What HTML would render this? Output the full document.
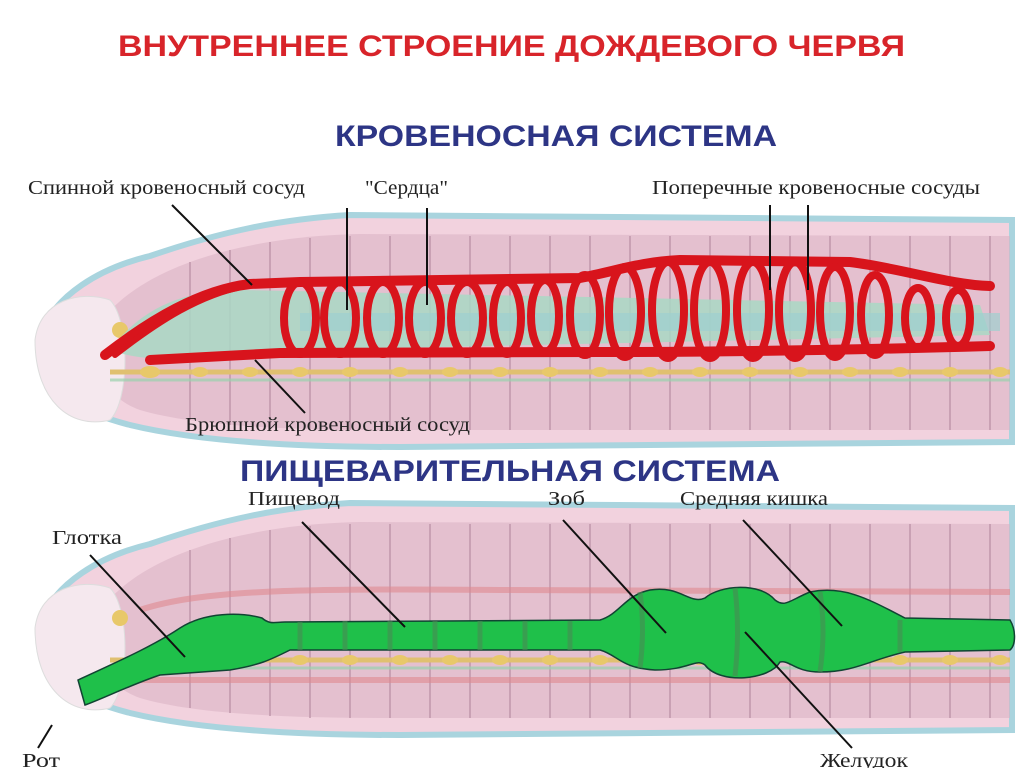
<!DOCTYPE html>
<html><head><meta charset="utf-8"><style>
body{margin:0;background:#fff;width:1024px;height:768px;overflow:hidden}
svg{display:block}
.t{font-family:"Liberation Serif",serif;font-size:20px;fill:#222}
.h{font-family:"Liberation Sans",sans-serif;font-weight:bold;font-size:30px}
</style></head><body>
<svg width="1024" height="768" viewBox="0 0 1024 768">
<defs>
<g id="body">
<path d="M40 335 C55 295 100 268 150 256 C220 232 280 219 350 215 L1012 220 L1012 442 L400 447 C300 447 200 442 130 425 C80 412 38 392 40 335 Z" fill="#f2d2de" stroke="#a9d4de" stroke-width="6"/>
<path d="M95 330 C120 290 170 265 230 250 C280 238 320 235 360 234 L1010 236 L1010 430 L380 430 C280 430 190 425 140 410 C110 400 90 370 95 330 Z" fill="#d9b0c2" opacity="0.55"/>
<g stroke="#c39aae" stroke-width="2" opacity="0.8">
<line x1="190" y1="262" x2="190" y2="420"/><line x1="230" y1="250" x2="230" y2="425"/><line x1="270" y1="242" x2="270" y2="428"/><line x1="310" y1="238" x2="310" y2="430"/><line x1="350" y1="236" x2="350" y2="430"/><line x1="390" y1="236" x2="390" y2="430"/><line x1="430" y1="236" x2="430" y2="430"/><line x1="470" y1="236" x2="470" y2="430"/><line x1="510" y1="236" x2="510" y2="430"/><line x1="550" y1="236" x2="550" y2="430"/><line x1="590" y1="236" x2="590" y2="430"/><line x1="630" y1="236" x2="630" y2="430"/><line x1="670" y1="236" x2="670" y2="430"/><line x1="710" y1="236" x2="710" y2="430"/><line x1="750" y1="236" x2="750" y2="430"/><line x1="790" y1="236" x2="790" y2="430"/><line x1="830" y1="236" x2="830" y2="430"/><line x1="870" y1="236" x2="870" y2="430"/><line x1="910" y1="236" x2="910" y2="430"/><line x1="950" y1="236" x2="950" y2="430"/><line x1="990" y1="236" x2="990" y2="430"/>
</g>
<path d="M35 340 C40 300 80 290 110 300 C130 320 130 400 110 420 C70 430 35 400 35 340 Z" fill="#f5e8ee" stroke="#ddd" stroke-width="1"/>
<path d="M110 372 L1010 372" stroke="#e0c070" stroke-width="5"/>
<g fill="#e8c86a"><circle cx="120" cy="330" r="8"/><ellipse cx="150" cy="372" rx="10" ry="6"/><ellipse cx="200" cy="372" rx="8" ry="5"/><ellipse cx="250" cy="372" rx="8" ry="5"/><ellipse cx="300" cy="372" rx="8" ry="5"/><ellipse cx="350" cy="372" rx="8" ry="5"/><ellipse cx="400" cy="372" rx="8" ry="5"/><ellipse cx="450" cy="372" rx="8" ry="5"/><ellipse cx="500" cy="372" rx="8" ry="5"/><ellipse cx="550" cy="372" rx="8" ry="5"/><ellipse cx="600" cy="372" rx="8" ry="5"/><ellipse cx="650" cy="372" rx="8" ry="5"/><ellipse cx="700" cy="372" rx="8" ry="5"/><ellipse cx="750" cy="372" rx="8" ry="5"/><ellipse cx="800" cy="372" rx="8" ry="5"/><ellipse cx="850" cy="372" rx="8" ry="5"/><ellipse cx="900" cy="372" rx="8" ry="5"/><ellipse cx="950" cy="372" rx="8" ry="5"/><ellipse cx="1000" cy="372" rx="8" ry="5"/></g>
<path d="M110 380 L1010 380" stroke="#9ad2ad" stroke-width="3" opacity="0.7"/>
</g>
</defs>

<text x="118" y="56" textLength="787" lengthAdjust="spacingAndGlyphs" class="h" fill="#d8242a">ВНУТРЕННЕЕ СТРОЕНИЕ ДОЖДЕВОГО ЧЕРВЯ</text>
<text x="335" y="146" textLength="442" lengthAdjust="spacingAndGlyphs" class="h" fill="#2d3585">КРОВЕНОСНАЯ СИСТЕМА</text>
<text x="240" y="481" textLength="540" lengthAdjust="spacingAndGlyphs" class="h" fill="#2d3585">ПИЩЕВАРИТЕЛЬНАЯ СИСТЕМА</text>

<!-- Worm 1 -->
<use href="#body"/>
<path d="M110 350 C140 310 180 290 240 290 L980 305 L990 335 L300 350 C220 360 150 365 110 350 Z" fill="#a9d8c4" opacity="0.85"/>
<path d="M300 322 L1000 322" stroke="#9fd0d0" stroke-width="18" opacity="0.7"/>
<g fill="none" stroke="#d8141c" stroke-linecap="round">
<path d="M105 355 C150 320 200 290 250 284 L300 282 L580 278 C620 270 640 262 680 260 L850 262 C900 268 950 285 990 286" stroke-width="10"/>
<path d="M115 355 C160 320 200 295 245 286" stroke-width="6"/>
<path d="M150 360 L280 353 L600 352 C700 352 850 350 990 346" stroke-width="10"/>
<g stroke-width="8">
<ellipse cx="300" cy="318" rx="16" ry="36"/><ellipse cx="340" cy="318" rx="16" ry="36"/><ellipse cx="383" cy="318" rx="16" ry="36"/><ellipse cx="425" cy="318" rx="16" ry="36"/><ellipse cx="467" cy="318" rx="16" ry="36"/><ellipse cx="507" cy="318" rx="14" ry="36"/><ellipse cx="545" cy="316" rx="14" ry="36"/><ellipse cx="585" cy="315" rx="15" ry="40"/><ellipse cx="625" cy="312" rx="16" ry="45"/><ellipse cx="668" cy="310" rx="16" ry="48"/><ellipse cx="710" cy="310" rx="16" ry="48"/><ellipse cx="753" cy="310" rx="16" ry="48"/><ellipse cx="795" cy="310" rx="16" ry="48"/><ellipse cx="835" cy="312" rx="15" ry="45"/><ellipse cx="875" cy="315" rx="14" ry="40"/><ellipse cx="918" cy="318" rx="13" ry="30"/><ellipse cx="958" cy="318" rx="12" ry="28"/>
</g></g>
<g stroke="#111" stroke-width="2">
<line x1="172" y1="205" x2="252" y2="285"/><line x1="347" y1="208" x2="347" y2="310"/><line x1="427" y1="208" x2="427" y2="305"/><line x1="770" y1="205" x2="770" y2="290"/><line x1="808" y1="205" x2="808" y2="290"/><line x1="255" y1="360" x2="305" y2="413"/>
</g>
<text class="t" x="28" y="194" textLength="277" lengthAdjust="spacingAndGlyphs">Спинной кровеносный сосуд</text>
<text class="t" x="365" y="194" textLength="83" lengthAdjust="spacingAndGlyphs">"Сердца"</text>
<text class="t" x="652" y="194" textLength="328" lengthAdjust="spacingAndGlyphs">Поперечные кровеносные сосуды</text>
<text class="t" x="185" y="431" textLength="285" lengthAdjust="spacingAndGlyphs">Брюшной кровеносный сосуд</text>

<!-- Worm 2 -->
<g transform="translate(0,288)"><use href="#body"/></g>
<g fill="none" stroke="#e08890" stroke-width="6" opacity="0.6">
<path d="M140 610 C200 590 300 588 500 590 L1010 592"/><path d="M140 680 L1010 680"/>
</g>
<path d="M78 680 C110 665 150 648 180 628 C205 612 240 612 262 618 C270 625 275 622 285 622 L600 620 C620 614 625 595 650 590 C680 585 690 605 705 598 C720 585 760 582 775 600 C785 608 790 600 810 592 C845 585 870 600 905 618 L1010 620 C1016 630 1016 645 1010 650 L905 652 C870 660 855 672 820 672 C795 672 790 660 780 662 C770 680 720 685 705 665 C695 658 690 670 655 670 C620 668 618 655 600 650 L290 650 C270 660 260 665 230 670 L160 675 C130 685 100 700 85 705 Z" fill="#1fc04a" stroke="#143" stroke-width="1.5"/>
<g stroke="#4a8a55" stroke-width="5" opacity="0.6" fill="none">
<path d="M300 622 L300 650"/><path d="M345 621 L345 650"/><path d="M390 621 L390 650"/><path d="M435 621 L435 650"/><path d="M480 621 L480 650"/><path d="M525 621 L525 650"/><path d="M570 621 L570 650"/><path d="M640 592 Q645 630 640 668"/><path d="M735 588 Q740 630 735 676"/><path d="M820 592 Q826 630 820 672"/><path d="M900 620 L900 652"/>
</g>
<g stroke="#111" stroke-width="2">
<line x1="90" y1="555" x2="185" y2="657"/><line x1="302" y1="522" x2="405" y2="627"/><line x1="563" y1="520" x2="666" y2="633"/><line x1="743" y1="520" x2="842" y2="626"/><line x1="745" y1="632" x2="852" y2="748"/><line x1="38" y1="748" x2="52" y2="725"/>
</g>
<text class="t" x="52" y="544" textLength="70" lengthAdjust="spacingAndGlyphs">Глотка</text>
<text class="t" x="248" y="505" textLength="92" lengthAdjust="spacingAndGlyphs">Пищевод</text>
<text class="t" x="548" y="505" textLength="37" lengthAdjust="spacingAndGlyphs">Зоб</text>
<text class="t" x="680" y="505" textLength="148" lengthAdjust="spacingAndGlyphs">Средняя кишка</text>
<text class="t" x="820" y="767" textLength="88" lengthAdjust="spacingAndGlyphs">Желудок</text>
<text class="t" x="22" y="767" textLength="38" lengthAdjust="spacingAndGlyphs">Рот</text>
</svg>
</body></html>
